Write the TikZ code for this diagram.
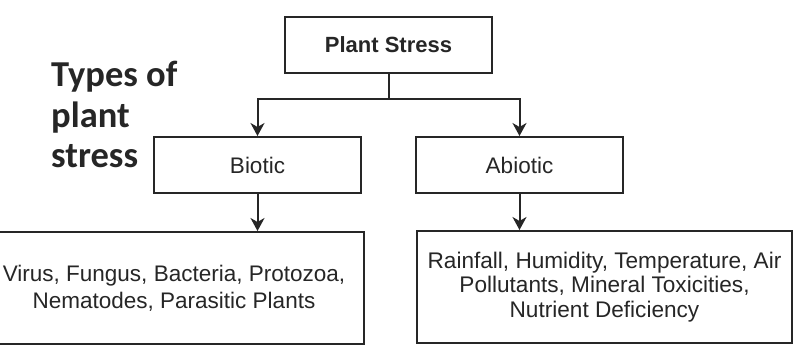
\documentclass[tikz,border=0pt]{standalone}
\usepackage{fontspec}
\setmainfont{Liberation Sans}
\newfontfamily\headfont{Carlito}
\usetikzlibrary{arrows.meta}
\definecolor{ink}{HTML}{262626}
\begin{document}
\begin{tikzpicture}[x=1pt,y=-1pt,
  box/.style={draw=ink, line width=2pt, text=ink, align=center, inner sep=0pt},
  link/.style={draw=ink, line width=2pt, -{Stealth[length=13pt,width=14pt,inset=4pt]}},
  body/.style={font=\fontsize{22.5}{26}\selectfont}]
\useasboundingbox (0,0) rectangle (794,347);
\fill[white] (0,0) rectangle (794,347);

% side title (base anchor sits on the last line)
\node[anchor=base west, align=left, text=ink, inner sep=0pt,
      font=\headfont\bfseries\fontsize{36.5}{40.5}\selectfont] (title) at (51,168)
  {Types of\\plant\\stress};

% tree
\node[box, minimum width=207, minimum height=56, font=\bfseries\fontsize{22}{26}\selectfont]
  (ps) at (388.5,45) {Plant Stress};
\node[box, body, minimum width=207, minimum height=56] (bio) at (257.5,165) {Biotic};
\node[box, body, minimum width=207, minimum height=56] (abio) at (519.5,165) {Abiotic};
\node[box, minimum width=380, minimum height=112, font=\fontsize{22.5}{27}\selectfont]
  (bioex) at (174,288) {Virus, Fungus, Bacteria, Protozoa,\\Nematodes, Parasitic Plants};
\node[box, minimum width=375, minimum height=112, font=\fontsize{22.6}{24.5}\selectfont]
  (abioex) at (604.5,287) {Rainfall, Humidity, Temperature, Air\\Pollutants, Mineral Toxicities,\\Nutrient Deficiency};

\coordinate (split) at (388.5,99);
\draw[draw=ink, line width=2pt] (ps.south) -- (split);
\draw[link] (split) -| (bio.north);
\draw[link] (split) -| (abio.north);
\draw[link] (bio.south) -- (bioex.north -| bio.south);
\draw[link] (abio.south) -- (abioex.north -| abio.south);
\end{tikzpicture}
\end{document}
